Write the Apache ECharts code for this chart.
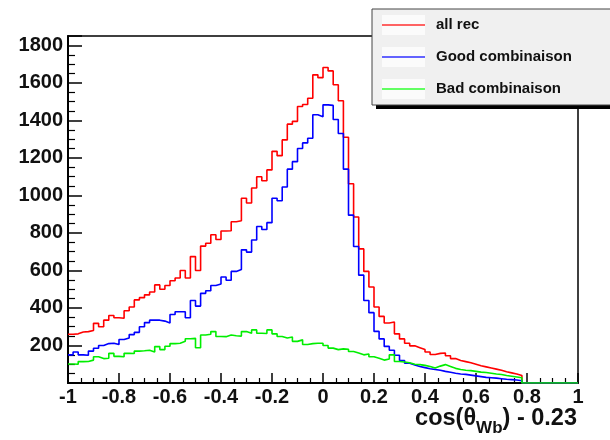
<!DOCTYPE html>
<html>
<head>
<meta charset="utf-8">
<script src="https://cdn.jsdelivr.net/npm/echarts@6/dist/echarts.min.js"></script>
<style>html,body{margin:0;padding:0;background:#fff}#c{width:610px;height:440px}</style>
</head>
<body>
<div id="c"></div>
<script>
// Histogram: 100 bins of width 0.02 from -1 to 1
var binStart = -1;
var binWidth = 0.02;
var xTicks = ['-1', '-0.8', '-0.6', '-0.4', '-0.2', '0', '0.2', '0.4', '0.6', '0.8', '1'];
var yTicks = [200, 400, 600, 800, 1000, 1200, 1400, 1600, 1800];
var seriesNames = ['all rec', 'Good combinaison', 'Bad combinaison'];

var allRec = [
  260, 262, 272, 274, 280, 318, 300, 335, 360, 348,
  345, 385, 405, 443, 455, 470, 485, 523, 500, 520,
  545, 560, 600, 560, 674, 600, 730, 745, 790, 765,
  810, 812, 860, 865, 985, 960, 1040, 1100, 1078, 1136,
  1235, 1212, 1296, 1380, 1395, 1474, 1485, 1518, 1643, 1628,
  1682, 1664, 1590, 1505, 1310, 1062, 885, 715, 595, 512,
  405, 355, 320, 325, 262, 235, 212, 198, 188, 178,
  165, 152, 158, 160, 145, 130, 120, 114, 108, 100,
  92, 86, 80, 74, 68, 60, 54, 48, 40, 0,
  0, 0, 0, 0, 0, 0, 0, 0, 0, 0
];
var goodComb = [
  150, 165, 150, 148, 170, 185, 200, 210, 212, 205,
  232, 240, 258, 270, 300, 322, 335, 335, 330, 320,
  365, 380, 380, 348, 440, 410, 478, 492, 520, 528,
  565, 548, 595, 605, 710, 698, 762, 834, 818, 855,
  985, 972, 1045, 1140, 1180, 1250, 1280, 1305, 1430, 1420,
  1483, 1480, 1405, 1330, 1140, 895, 728, 575, 440, 375,
  275, 235, 195, 175, 148, 120, 105, 96, 88, 82,
  76, 72, 68, 62, 57, 52, 48, 46, 42, 38,
  34, 30, 28, 26, 23, 20, 18, 16, 12, 0,
  0, 0, 0, 0, 0, 0, 0, 0, 0, 0
];
var badComb = [
  101, 100, 114, 115, 122, 140, 130, 132, 158, 142,
  140, 158, 157, 170, 172, 175, 165, 194, 178, 196,
  210, 212, 222, 236, 238, 188, 256, 260, 274, 248,
  247, 256, 252, 250, 274, 265, 283, 265, 264, 283,
  262, 248, 240, 245, 222, 230, 205, 210, 212, 212,
  200, 186, 178, 182, 180, 168, 160, 150, 155, 140,
  132, 122, 128, 150, 115, 112, 108, 100, 98, 94,
  88, 80, 90, 98, 88, 78, 72, 68, 66, 62,
  58, 56, 52, 48, 45, 40, 36, 32, 28, 0,
  0, 0, 0, 0, 0, 0, 0, 0, 0, 0
];

function toSteps(vals) {
  var d = vals.map(function (v, i) { return [binStart + i * binWidth, v]; });
  d.push([binStart + vals.length * binWidth, vals[vals.length - 1]]);
  return d;
}

var FONT = 'Liberation Sans, Arial, Helvetica, sans-serif';
var chart = echarts.init(document.getElementById('c'), null, {renderer: 'canvas'});

function lineSeries(name, vals, color, z) {
  return {
    name: name, type: 'line', step: 'end', data: toSteps(vals),
    showSymbol: false, symbol: 'none', animation: false, z: z,
    lineStyle: {color: color, width: 1.6}, clip: true
  };
}

chart.setOption({
  animation: false,
  backgroundColor: '#ffffff',
  grid: {left: 68, right: 32, top: 36, bottom: 57, show: true, borderColor: '#000', borderWidth: 1.5, backgroundColor: 'transparent'},
  xAxis: {
    type: 'value', min: -1, max: 1, interval: 0.2,
    axisLine: {show: true, onZero: false, lineStyle: {color: '#000', width: 2}},
    axisTick: {show: true, inside: true, length: 10, lineStyle: {color: '#000', width: 1.5}},
    minorTick: {show: true, splitNumber: 4, length: 5, lineStyle: {color: '#000', width: 1.2}},
    splitLine: {show: false},
    axisLabel: {
      color: '#111', fontSize: 20, fontWeight: 'bold', fontFamily: FONT, margin: 4,
      showMinLabel: true, showMaxLabel: true,
      formatter: function (v) {
        var i = Math.round((v + 1) / 0.2);
        return xTicks[i] !== undefined ? xTicks[i] : '';
      }
    }
  },
  yAxis: {
    type: 'value', min: 0, max: 1850, interval: 200,
    axisLine: {show: true, onZero: false, lineStyle: {color: '#000', width: 2}},
    axisTick: {show: true, inside: true, length: 14, lineStyle: {color: '#000', width: 1.5}},
    minorTick: {show: true, splitNumber: 4, length: 7, lineStyle: {color: '#000', width: 1.2}},
    splitLine: {show: false},
    axisLabel: {
      color: '#111', fontSize: 20, fontWeight: 'bold', fontFamily: FONT, margin: 5,
      formatter: function (v) { return yTicks.indexOf(v) >= 0 ? String(v) : ''; }
    }
  },
  series: [
    lineSeries(seriesNames[0], allRec, '#ff0000', 2),
    lineSeries(seriesNames[1], goodComb, '#0000ff', 3),
    lineSeries(seriesNames[2], badComb, '#00ee00', 4)
  ],
  graphic: [
    {type: 'rect', z: 100, shape: {x: 376, y: 13, width: 300, height: 96}, style: {fill: '#000'}},
    {type: 'rect', z: 101, shape: {x: 372, y: 9, width: 300, height: 96}, style: {fill: '#f0f0f0', stroke: '#444', lineWidth: 1}},
    {type: 'rect', z: 102, shape: {x: 382, y: 15, width: 43, height: 20}, style: {fill: '#fbfbfb'}},
    {type: 'rect', z: 102, shape: {x: 382, y: 47, width: 43, height: 20}, style: {fill: '#fbfbfb'}},
    {type: 'rect', z: 102, shape: {x: 382, y: 79, width: 43, height: 20}, style: {fill: '#fbfbfb'}},
    {type: 'line', z: 103, shape: {x1: 382, y1: 25, x2: 425, y2: 25}, style: {stroke: '#ff3030', lineWidth: 1.5}},
    {type: 'line', z: 103, shape: {x1: 382, y1: 57, x2: 425, y2: 57}, style: {stroke: '#3030ff', lineWidth: 1.5}},
    {type: 'line', z: 103, shape: {x1: 382, y1: 89, x2: 425, y2: 89}, style: {stroke: '#30ff30', lineWidth: 1.5}},
    {type: 'text', z: 103, style: {x: 436, y: 25, text: seriesNames[0], fill: '#111', font: 'bold 15px ' + FONT, verticalAlign: 'middle'}},
    {type: 'text', z: 103, style: {x: 436, y: 57, text: seriesNames[1], fill: '#111', font: 'bold 15px ' + FONT, verticalAlign: 'middle'}},
    {type: 'text', z: 103, style: {x: 436, y: 89, text: seriesNames[2], fill: '#111', font: 'bold 15px ' + FONT, verticalAlign: 'middle'}},
    {type: 'text', z: 103, style: {
      x: 577, y: 407, align: 'right', verticalAlign: 'top',
      text: '{a|cos(θ}{b|Wb}{a|) - 0.23}',
      rich: {
        a: {fontSize: 23.5, fontWeight: 'bold', fontFamily: FONT, fill: '#111', lineHeight: 30, verticalAlign: 'top'},
        b: {fontSize: 17, fontWeight: 'bold', fontFamily: FONT, fill: '#111', lineHeight: 10, verticalAlign: 'bottom'}
      }
    }}
  ]
});
</script>
</body>
</html>
